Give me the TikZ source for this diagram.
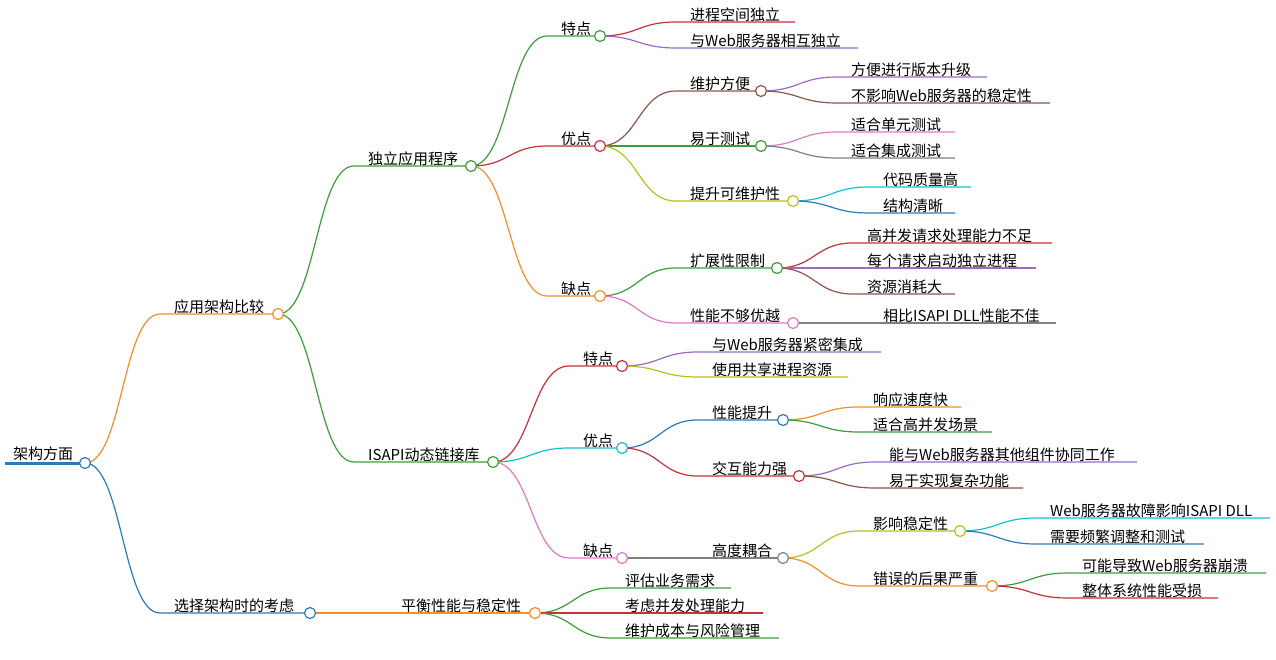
\documentclass[tikz,border=0pt]{standalone}
\usepackage{fontspec}
\setmainfont{Noto Sans CJK SC}
\usetikzlibrary{calc}
\definecolor{cO}{HTML}{F28E2B}
\definecolor{cG}{HTML}{3A9E3A}
\definecolor{cB}{HTML}{2B7BB9}
\definecolor{cR}{HTML}{C8303A}
\definecolor{cP}{HTML}{9A6BC4}
\definecolor{cN}{HTML}{8C564B}
\definecolor{cK}{HTML}{E377C2}
\definecolor{cY}{HTML}{7F7F7F}
\definecolor{cL}{HTML}{BCBD22}
\definecolor{cC}{HTML}{17BECF}
\tikzset{txt/.style={font=\fontsize{15}{17}\selectfont,inner sep=1pt,anchor=south west},
 dot/.style={circle,draw=#1,fill=white,line width=1.2pt,inner sep=0pt,minimum size=11pt}}
% #1 parent coord, #2 name, #3 text x, #4 y, #5 end x, #6 color, #7 text
\newcommand\mmlink[7]{%
 \coordinate (#2s) at (#3-13,#4);
 \coordinate (#2e) at (#5,#4);
 \node[txt] (#2) at (#3,#4+1) {#7};
 \draw[#6,line width=1.2pt] let \p1=(#1), \p2=(#2s) in (\p1) .. controls (\x1/2+\x2/2,\y1) and (\x1/2+\x2/2,\y2) .. (\p2) -- (#2e);}
\newcommand\mmdot[2]{\node[dot=#2] (#1c) at (#1e) {};}
\begin{document}
\begin{tikzpicture}[x=1pt,y=-1pt]
\useasboundingbox (0,0) rectangle (1276,660);
\coordinate (roote) at (85,463);
\node[txt] (root) at (12,462) {架构方面};
\draw[cB,line width=3pt] (5,463) -- (roote);
% level 1
\mmlink{roote}{a}{173}{314}{278}{cO}{应用架构比较}
\mmlink{roote}{b}{173}{613}{310}{cB}{选择架构时的考虑}
% level 2
\mmlink{ae}{a1}{367}{166}{471}{cG}{独立应用程序}
\mmlink{ae}{a2}{367}{462}{493}{cG}{ISAPI动态链接库}
\mmlink{be}{b1}{400}{613}{535}{cO}{平衡性能与稳定性}
% 独立应用程序
\mmlink{a1e}{p1}{560}{36}{600}{cG}{特点}
\mmlink{a1e}{p2}{560}{146}{600}{cR}{优点}
\mmlink{a1e}{p3}{560}{296}{600}{cO}{缺点}
\mmlink{p1e}{p11}{689}{22}{795}{cR}{进程空间独立}
\mmlink{p1e}{p12}{689}{48}{858}{cP}{与Web服务器相互独立}
\mmlink{p2e}{q1}{689}{91}{761}{cN}{维护方便}
\mmlink{p2e}{q2}{689}{146}{761}{cG}{易于测试}
\mmlink{p2e}{q3}{689}{201}{793}{cL}{提升可维护性}
\mmlink{q1e}{q11}{850}{77}{987}{cP}{方便进行版本升级}
\mmlink{q1e}{q12}{850}{103}{1050}{cN}{不影响Web服务器的稳定性}
\mmlink{q2e}{q21}{850}{132}{955}{cK}{适合单元测试}
\mmlink{q2e}{q22}{850}{158}{955}{cY}{适合集成测试}
\mmlink{q3e}{q31}{882}{187}{971}{cC}{代码质量高}
\mmlink{q3e}{q32}{882}{213}{955}{cB}{结构清晰}
\mmlink{p3e}{r1}{689}{268}{777}{cG}{扩展性限制}
\mmlink{p3e}{r2}{689}{323}{793}{cK}{性能不够优越}
\mmlink{r1e}{r11}{866}{243}{1052}{cR}{高并发请求处理能力不足}
\mmlink{r1e}{r12}{866}{268}{1036}{cP}{每个请求启动独立进程}
\mmlink{r1e}{r13}{866}{294}{955}{cN}{资源消耗大}
\mmlink{r2e}{r21}{882}{323}{1056}{cY}{相比ISAPI DLL性能不佳}
% ISAPI
\mmlink{a2e}{s1}{582}{366}{622}{cR}{特点}
\mmlink{a2e}{s2}{582}{448}{622}{cC}{优点}
\mmlink{a2e}{s3}{582}{558}{622}{cK}{缺点}
\mmlink{s1e}{s11}{711}{352}{881}{cP}{与Web服务器紧密集成}
\mmlink{s1e}{s12}{711}{377}{848}{cL}{使用共享进程资源}
\mmlink{s2e}{t1}{711}{420}{783}{cB}{性能提升}
\mmlink{s2e}{t2}{711}{476}{799}{cR}{交互能力强}
\mmlink{t1e}{t11}{872}{407}{961}{cO}{响应速度快}
\mmlink{t1e}{t12}{872}{432}{992}{cG}{适合高并发场景}
\mmlink{t2e}{t21}{888}{462}{1137}{cP}{能与Web服务器其他组件协同工作}
\mmlink{t2e}{t22}{888}{488}{1023}{cN}{易于实现复杂功能}
\mmlink{s3e}{u1}{711}{558}{783}{cY}{高度耦合}
\mmlink{u1e}{u11}{872}{531}{960}{cL}{影响稳定性}
\mmlink{u1e}{u12}{872}{586}{992}{cO}{错误的后果严重}
\mmlink{u11e}{v1}{1049}{518}{1270}{cC}{Web服务器故障影响ISAPI DLL}
\mmlink{u11e}{v2}{1049}{544}{1204}{cB}{需要频繁调整和测试}
\mmlink{u12e}{w1}{1081}{573}{1266}{cG}{可能导致Web服务器崩溃}
\mmlink{u12e}{w2}{1081}{598}{1218}{cR}{整体系统性能受损}
% 平衡
\mmlink{b1e}{x1}{624}{588}{731}{cG}{评估业务需求}
\mmlink{b1e}{x2}{624}{613}{763}{cR}{考虑并发处理能力}
\mmlink{b1e}{x3}{624}{638}{779}{cG}{维护成本与风险管理}
% dots
\mmdot{root}{cB}
\mmdot{a}{cO}\mmdot{b}{cB}
\mmdot{a1}{cG}\mmdot{a2}{cG}\mmdot{b1}{cO}
\mmdot{p1}{cG}\mmdot{p2}{cR}\mmdot{p3}{cO}
\mmdot{q1}{cN}\mmdot{q2}{cG}\mmdot{q3}{cL}
\mmdot{r1}{cG}\mmdot{r2}{cK}
\mmdot{s1}{cR}\mmdot{s2}{cC}\mmdot{s3}{cK}
\mmdot{t1}{cB}\mmdot{t2}{cR}
\mmdot{u1}{cY}\mmdot{u11}{cL}\mmdot{u12}{cO}
\end{tikzpicture}
\end{document}
